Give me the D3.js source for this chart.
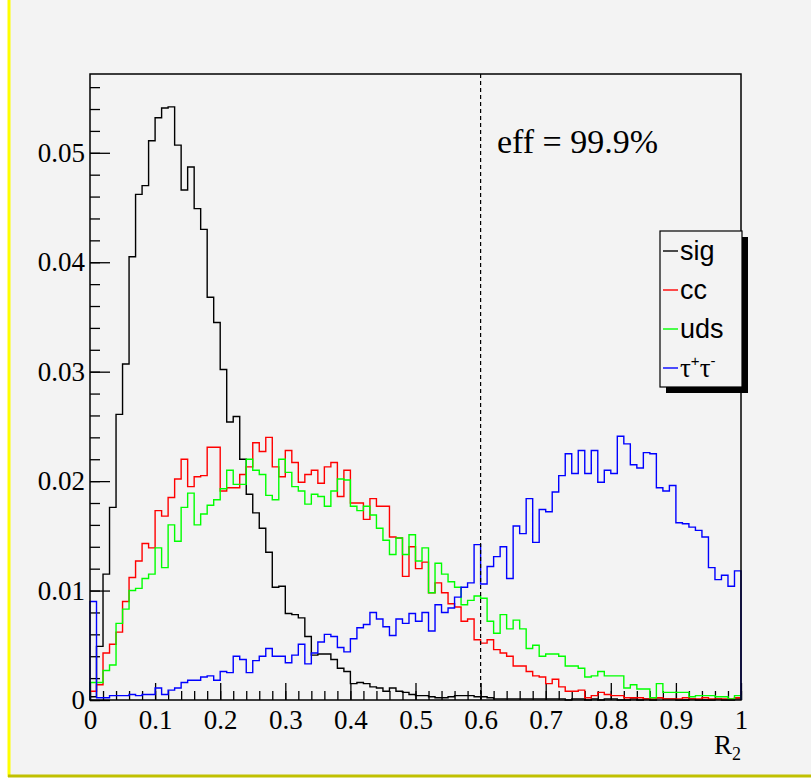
<!DOCTYPE html>
<html>
<head>
<meta charset="utf-8">
<script src="https://cdn.jsdelivr.net/npm/d3@7"></script>
<style>
  body { margin: 0; background: #fff; }
  svg { display: block; }
</style>
</head>
<body>
<svg id="chart" width="811" height="780"></svg>
<script>
// 100 bins over [0, 1]
const sig = [
  0.0003, 0.0049, 0.0115, 0.0176, 0.0261, 0.0307, 0.0405, 0.0462, 0.0470, 0.0511,
  0.0532, 0.0541, 0.0542, 0.0507, 0.0466, 0.0487, 0.0449, 0.0430, 0.0368, 0.0345,
  0.0302, 0.0254, 0.0259, 0.0220, 0.0188, 0.0171, 0.0157, 0.0135, 0.0103, 0.0104,
  0.0079, 0.0078, 0.0075, 0.0058, 0.0041, 0.0042, 0.0042, 0.0037, 0.0029, 0.0026,
  0.0015, 0.0016, 0.0015, 0.0012, 0.0011, 0.0008, 0.0011, 0.0008, 0.0007, 0.0005,
  0.0004, 0.0004, 0.0003, 0.0002, 0.0002, 0.0003, 0.0004, 0.0004, 0.0004, 0.0003,
  0.0003, 0.0002, 0.0001, 0.0001, 0.0001, 0.0001, 0.0001, 0.0001, 0.0001, 0.0001,
  0.0001, 0.0001, 0.0001, 0.0000, 0.0001, 0.0001, 0.0000, 0.0001, 0.0000, 0.0001,
  0.0001, 0.0000, 0.0000, 0.0001, 0.0000, 0.0001, 0.0000, 0.0002, 0.0001, 0.0001,
  0.0000, 0.0000, 0.0001, 0.0000, 0.0000, 0.0000, 0.0001, 0.0000, 0.0000, 0.0001
];
const cc = [
  0.0008, 0.0014, 0.0043, 0.0051, 0.0062, 0.0090, 0.0112, 0.0127, 0.0143, 0.0139,
  0.0173, 0.0168, 0.0185, 0.0202, 0.0220, 0.0195, 0.0204, 0.0205, 0.0231, 0.0231,
  0.0191, 0.0194, 0.0194, 0.0206, 0.0213, 0.0235, 0.0227, 0.0240, 0.0213, 0.0204,
  0.0228, 0.0217, 0.0199, 0.0206, 0.0210, 0.0198, 0.0213, 0.0217, 0.0186, 0.0210,
  0.0180, 0.0180, 0.0165, 0.0184, 0.0177, 0.0177, 0.0149, 0.0148, 0.0113, 0.0140,
  0.0120, 0.0126, 0.0098, 0.0107, 0.0098, 0.0088, 0.0085, 0.0072, 0.0074, 0.0055,
  0.0052, 0.0055, 0.0046, 0.0043, 0.0040, 0.0031, 0.0031, 0.0026, 0.0022, 0.0021,
  0.0015, 0.0019, 0.0012, 0.0008, 0.0008, 0.0009, 0.0002, 0.0004, 0.0007, 0.0005,
  0.0004, 0.0004, 0.0002, 0.0002, 0.0002, 0.0001, 0.0001, 0.0002, 0.0001, 0.0001,
  0.0001, 0.0002, 0.0001, 0.0001, 0.0002, 0.0001, 0.0001, 0.0001, 0.0001, 0.0002
];
const uds = [
  0.0016, 0.0016, 0.0027, 0.0032, 0.0070, 0.0083, 0.0100, 0.0102, 0.0111, 0.0115,
  0.0139, 0.0121, 0.0160, 0.0145, 0.0176, 0.0189, 0.0160, 0.0170, 0.0178, 0.0183,
  0.0193, 0.0210, 0.0197, 0.0197, 0.0220, 0.0210, 0.0206, 0.0187, 0.0183, 0.0220,
  0.0208, 0.0195, 0.0191, 0.0179, 0.0188, 0.0186, 0.0177, 0.0191, 0.0202, 0.0201,
  0.0177, 0.0173, 0.0177, 0.0169, 0.0157, 0.0146, 0.0133, 0.0148, 0.0133, 0.0151,
  0.0127, 0.0139, 0.0098, 0.0125, 0.0115, 0.0108, 0.0103, 0.0087, 0.0091, 0.0095,
  0.0093, 0.0072, 0.0061, 0.0078, 0.0065, 0.0073, 0.0065, 0.0047, 0.0050, 0.0040,
  0.0042, 0.0042, 0.0040, 0.0031, 0.0031, 0.0029, 0.0021, 0.0022, 0.0026, 0.0022,
  0.0022, 0.0022, 0.0011, 0.0014, 0.0010, 0.0010, 0.0002, 0.0015, 0.0007, 0.0007,
  0.0007, 0.0007, 0.0003, 0.0004, 0.0004, 0.0004, 0.0003, 0.0003, 0.0001, 0.0004
];
const tautau = [
  0.0090, 0.0002, 0.0002, 0.0004, 0.0004, 0.0004, 0.0005, 0.0004, 0.0005, 0.0005,
  0.0011, 0.0005, 0.0009, 0.0011, 0.0016, 0.0018, 0.0018, 0.0021, 0.0022, 0.0018,
  0.0026, 0.0025, 0.0040, 0.0037, 0.0025, 0.0036, 0.0040, 0.0047, 0.0040, 0.0040,
  0.0034, 0.0041, 0.0051, 0.0033, 0.0043, 0.0053, 0.0060, 0.0058, 0.0048, 0.0044,
  0.0056, 0.0066, 0.0069, 0.0080, 0.0074, 0.0067, 0.0059, 0.0074, 0.0070, 0.0079,
  0.0072, 0.0080, 0.0063, 0.0087, 0.0080, 0.0084, 0.0094, 0.0103, 0.0107, 0.0142,
  0.0106, 0.0122, 0.0131, 0.0140, 0.0111, 0.0159, 0.0152, 0.0184, 0.0144, 0.0174,
  0.0172, 0.0190, 0.0205, 0.0225, 0.0207, 0.0228, 0.0207, 0.0228, 0.0199, 0.0210,
  0.0207, 0.0241, 0.0234, 0.0215, 0.0212, 0.0226, 0.0225, 0.0194, 0.0191, 0.0196,
  0.0162, 0.0161, 0.0158, 0.0155, 0.0149, 0.0121, 0.0110, 0.0114, 0.0104, 0.0118
];
const seriesNames = ['sig', 'cc', 'uds', 'tautau'];
const seriesColors = ['#000000', '#ff0000', '#00ff00', '#0000ff'];
const yTicks = [0, 0.01, 0.02, 0.03, 0.04, 0.05];
const xTicks = [0, 0.1, 0.2, 0.3, 0.4, 0.5, 0.6, 0.7, 0.8, 0.9, 1];
const cutValue = 0.6;
const effLabel = 'eff = 99.9%';

const svg = d3.select('#chart');
const m = { left: 90, right: 741, top: 74, bottom: 700 };

// canvas + yellow frame
svg.append('rect').attr('x', 10).attr('y', 0).attr('width', 801).attr('height', 775).attr('fill', '#f3f3f3');
svg.append('line').attr('x1', 9).attr('x2', 9).attr('y1', 0).attr('y2', 777)
  .attr('stroke', '#ffff00').attr('stroke-width', 3);
svg.append('line').attr('x1', 8).attr('x2', 811).attr('y1', 776).attr('y2', 776)
  .attr('stroke', '#c0c000').attr('stroke-width', 3);

const x = d3.scaleLinear().domain([0, 1]).range([m.left, m.right]);
const y = d3.scaleLinear().domain([0, 0.0572]).range([m.bottom, m.top]);

const font = "'Liberation Serif', 'DejaVu Serif', serif";

// y axis (major + minor ticks)
const yAxis = svg.append('g').attr('transform', `translate(${m.left},0)`)
  .call(d3.axisRight(y).tickValues(yTicks).tickSize(20).tickFormat(d => d === 0 ? '0' : d3.format('.2f')(d)));
yAxis.attr('font-family', font).attr('font-size', 27);
yAxis.selectAll('text').attr('x', -5).attr('text-anchor', 'end').attr('fill', '#000');
yAxis.select('.domain').remove();
svg.append('g').attr('transform', `translate(${m.left},0)`)
  .call(d3.axisRight(y).tickValues(d3.range(0, 0.0571, 0.002)).tickSize(10).tickFormat(''))
  .select('.domain').remove();

// x axis
const xAxis = svg.append('g').attr('transform', `translate(0,${m.bottom})`)
  .call(d3.axisTop(x).tickValues(xTicks).tickSize(17).tickFormat(d => d3.format('~g')(d)));
xAxis.attr('font-family', font).attr('font-size', 27);
xAxis.selectAll('text').attr('y', 10).attr('dy', '0.71em').attr('fill', '#000');
xAxis.select('.domain').remove();
svg.append('g').attr('transform', `translate(0,${m.bottom})`)
  .call(d3.axisTop(x).tickValues(d3.range(0, 1.001, 0.02)).tickSize(9).tickFormat(''))
  .select('.domain').remove();

svg.selectAll('.tick line').attr('stroke', '#000').attr('stroke-width', 1.3);

// histograms
const binW = 1 / sig.length;
const step = d3.line().curve(d3.curveStepAfter).x(d => x(d[0])).y(d => y(d[1]));
[sig, cc, uds, tautau].forEach((vals, i) => {
  const pts = vals.map((v, k) => [k * binW, v]);
  pts.push([1, vals[vals.length - 1]]);
  svg.append('path')
    .attr('d', step([[0, 0], ...pts, [1, 0]]))
    .attr('fill', 'none')
    .attr('stroke', seriesColors[i])
    .attr('stroke-width', 1.4);
});

// frame
svg.append('rect').attr('x', m.left).attr('y', m.top)
  .attr('width', m.right - m.left).attr('height', m.bottom - m.top)
  .attr('fill', 'none').attr('stroke', '#000').attr('stroke-width', 1.5);

// cut line
svg.append('line').attr('x1', x(cutValue)).attr('x2', x(cutValue))
  .attr('y1', m.top).attr('y2', m.bottom)
  .attr('stroke', '#000').attr('stroke-width', 1.2).attr('stroke-dasharray', '4,3');

svg.append('text').attr('x', 497).attr('y', 153).text(effLabel)
  .attr('font-family', font).attr('font-size', 34);

// axis title
const r2 = svg.append('text').attr('x', 741).attr('y', 754).attr('text-anchor', 'end')
  .attr('font-family', font).attr('font-size', 27);
r2.append('tspan').text('R');
r2.append('tspan').attr('font-size', 18).attr('dy', 6).text('2');

// legend
const lg = svg.append('g').attr('transform', 'translate(660,231)');
lg.append('rect').attr('x', 6).attr('y', 6).attr('width', 82).attr('height', 156).attr('fill', '#000');
lg.append('rect').attr('width', 82).attr('height', 156).attr('fill', '#f3f3f3')
  .attr('stroke', '#000').attr('stroke-width', 1.2);
const labels = ['sig', 'cc', 'uds'];
seriesNames.forEach((name, i) => {
  const cy = 20 + i * 39;
  lg.append('line').attr('x1', 3).attr('x2', 18).attr('y1', cy).attr('y2', cy)
    .attr('stroke', seriesColors[i]).attr('stroke-width', 1.4);
  const t = lg.append('text').attr('x', 20).attr('y', cy + 9)
    .attr('font-family', "'Liberation Sans', Arial, sans-serif").attr('font-size', 27);
  if (i < 3) t.text(labels[i]);
  else {
    t.append('tspan').attr('font-family', font).text('τ');
    t.append('tspan').attr('dy', -11).attr('font-size', 15).text('+');
    t.append('tspan').attr('dy', 11).attr('font-family', font).text('τ');
    t.append('tspan').attr('dy', -11).attr('font-size', 15).text('-');
  }
});
</script>
</body>
</html>
